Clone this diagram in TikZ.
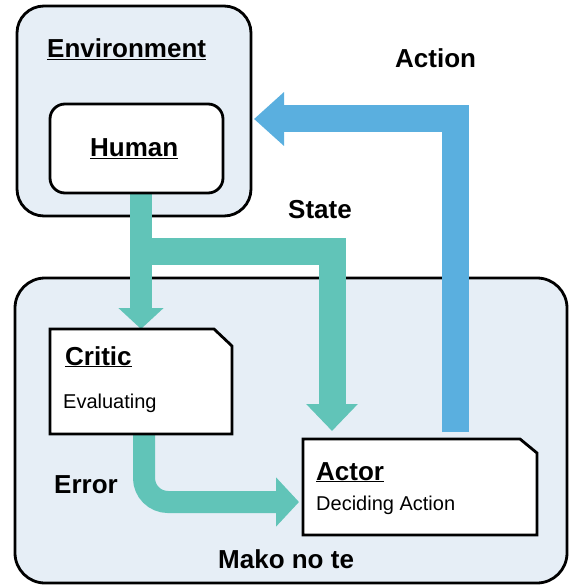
\documentclass[tikz,border=0pt]{standalone}
\usepackage{fontspec}
\setmainfont{Liberation Sans}
\usetikzlibrary{arrows.meta,calc}

\definecolor{panel}{HTML}{E6EEF6}
\definecolor{flowteal}{HTML}{61C4B8}
\definecolor{flowblue}{HTML}{5AAFDF}

\begin{document}
\begin{tikzpicture}[x=1pt,y=-1pt,
  frame/.style={draw=black,line width=2.8pt,fill=panel,rounded corners=#1,
    inner sep=0pt,outer sep=0pt},
  inner/.style={draw=black,line width=2.8pt,fill=white,rounded corners=15pt,
    inner sep=0pt,outer sep=0pt},
  slot/.style={draw=none,inner sep=0pt,outer sep=0pt},
  cardline/.style={draw=black,line width=2.8pt,fill=white},
  title/.style={font=\fontsize{26}{30}\selectfont\bfseries,inner sep=0pt,anchor=base west},
  note/.style={font=\fontsize{20}{24}\selectfont,inner sep=0pt,anchor=base west},
  tealflow/.style={draw=flowteal,line cap=butt,line join=miter},
  blueflow/.style={draw=flowblue,line cap=butt,line join=miter}]

\useasboundingbox (0,0) rectangle (572,585);

% outer panels
\node[frame=27pt,minimum width=234pt,minimum height=210pt] (env) at (134,111) {};
\node[frame=30pt,minimum width=552pt,minimum height=305pt] (mako) at (291,430.5) {};

% placeholders for the two cards and the human box
\node[slot,minimum width=182pt,minimum height=105pt] (critic) at (141,381.5) {};
\node[slot,minimum width=234pt,minimum height=96pt] (actor) at (420,487) {};
\node[slot,minimum width=173pt,minimum height=89pt] (humanslot) at (136.5,148.5) {};

% state flow out of the environment
\coordinate (statejoin) at (130,251);
\draw[tealflow,line width=22pt,-{Triangle[width=44pt,length=21pt]}]
  (critic.north |- humanslot.south) -- (critic.north);
\draw[tealflow,line width=27pt,-{Triangle[width=50pt,length=27pt]}]
  (statejoin) -| ([xshift=29pt,yshift=8pt]actor.north west);

% error from critic to actor
\draw[tealflow,line width=22pt,rounded corners=24pt,-{Triangle[width=48pt,length=23pt]}]
  ([xshift=3pt]critic.south) |- ([xshift=-4pt,yshift=-15pt]actor.west);

% action back to the environment
\draw[blueflow,line width=27pt,-{Triangle[width=52pt,length=30pt]}]
  ([xshift=152pt,yshift=7pt]actor.north west) |- ($(env.east)+(3,8)$);

% human box
\node[inner,minimum width=173pt,minimum height=89pt] (human) at (humanslot) {};

% cards with a clipped corner
\filldraw[cardline] (critic.south west) -- (critic.north west)
  -- ([xshift=-18pt]critic.north east) -- ([yshift=-17pt]critic.north east)
  -- (critic.south east) -- cycle;
\filldraw[cardline] (actor.south west) -- (actor.north west)
  -- ([xshift=-17pt]actor.north east) -- ([yshift=-14pt]actor.north east)
  -- (actor.south east) -- cycle;

% labels
\node[title] (envlabel) at (47,58) {\underline{Environment}};
\node[title] (humanlabel) at (90,157) {\underline{Human}};
\node[title] (criticlabel) at (65,365) {\underline{Critic}};
\node[note] (criticnote) at (63,408) {Evaluating};
\node[title] (actorlabel) at (316,480) {\underline{Actor}};
\node[note] (actornote) at (316,510) {Deciding Action};
\node[title] (errorlabel) at (54,493) {Error};
\node[title] (statelabel) at (288,218) {State};
\node[title] (actionlabel) at (395,67.5) {Action};
\node[title] (makolabel) at (218,568) {Mako no te};
\end{tikzpicture}
\end{document}
